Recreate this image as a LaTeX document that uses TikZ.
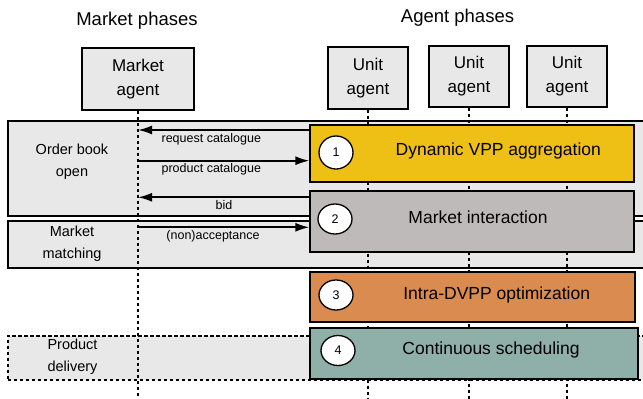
\documentclass[tikz,border=0pt]{standalone}
\usepackage{fontspec}
\setmainfont{Liberation Sans}
\usetikzlibrary{arrows.meta,shapes.geometric}
\definecolor{panelgray}{RGB}{232,232,232}
\definecolor{aggyellow}{RGB}{238,192,22}
\definecolor{migray}{RGB}{190,186,185}
\definecolor{optorange}{RGB}{218,139,80}
\definecolor{csteal}{RGB}{143,176,168}
\tikzset{
  panel/.style={draw=black, line width=1.5pt, fill=panelgray, anchor=north west, inner sep=0pt},
  dashpanel/.style={draw=black, line width=1.6pt, fill=panelgray, anchor=north west, inner sep=0pt, dash pattern=on 3.5pt off 2.5pt},
  agentbox/.style={draw=black, line width=1.3pt, fill=panelgray, align=center, inner sep=0pt,
    font=\fontsize{17}{24}\selectfont},
  lifeline/.style={black, line width=1.3pt, dash pattern=on 3.2pt off 2.8pt},
  phasebox/.style={draw=black, line width=1.3pt, inner sep=0pt},
  numcirc/.style={ellipse, draw=black, line width=1.3pt, fill=white, minimum width=34pt, minimum height=31pt, inner sep=0pt, font=\fontsize{12.5}{14}\selectfont},
  phasetext/.style={anchor=base, font=\fontsize{17.5}{20}\selectfont, inner sep=0pt},
  headtext/.style={anchor=base, font=\fontsize{18.5}{22}\selectfont, inner sep=0pt},
  marketlbl/.style={align=center, font=\fontsize{14.5}{22}\selectfont, inner sep=0pt},
  msglbl/.style={anchor=base, font=\fontsize{12.5}{14}\selectfont, inner sep=0pt},
  msg/.style={line width=1.8pt, -{Latex[length=14pt,width=9pt]}},
}
\begin{document}
\begin{tikzpicture}[x=1pt,y=-1pt]
\useasboundingbox (0,0) rectangle (643,399);
\clip (0,0) rectangle (643,399);

% market phase panels
\node[panel, minimum width=690pt, minimum height=95pt] (p1) at (7,120) {};
\node[panel, minimum width=690pt, minimum height=47pt] (p2) at (7,220) {};
\node[dashpanel, minimum width=690pt, minimum height=44pt] (p3) at (7,335) {};

% headers
\node[headtext] (hm) at (137,25) {Market phases};
\node[headtext] (ha) at (457.5,22.7) {Agent phases};

% agents
\node[agentbox, minimum width=112pt, minimum height=62pt] (ma) at (138,79) {Market\\agent};
\node[agentbox, minimum width=80pt, minimum height=62pt] (u1) at (368,78) {Unit\\agent};
\node[agentbox, minimum width=80pt, minimum height=61pt] (u2) at (469,76.5) {Unit\\agent};
\node[agentbox, minimum width=80pt, minimum height=61pt] (u3) at (567,76.5) {Unit\\agent};

% lifelines
\coordinate (mend) at (138,405);
\draw[lifeline] (ma.south) -- (mend);
\coordinate (u1end) at (368,405);
\coordinate (u2end) at (469,405);
\coordinate (u3end) at (567,405);
\draw[lifeline] (u1.south) -- (u1end);
\draw[lifeline] (u2.south) -- (u2end);
\draw[lifeline] (u3.south) -- (u3end);

% phase labels of the market
\node[marketlbl] (l1) at (72,161.5) {Order book\\open};
\node[marketlbl] (l2) at (72,243.8) {Market\\matching};
\node[marketlbl] (l3) at (72.5,356.6) {Product\\delivery};

% agent phase boxes
\node[phasebox, fill=aggyellow, minimum width=324pt, minimum height=57pt] (agg) at (472,153.5) {};
\node[phasebox, fill=migray, minimum width=324pt, minimum height=61pt] (mi) at (472,221.5) {};
\node[phasebox, fill=optorange, minimum width=325pt, minimum height=50pt] (opt) at (472.5,297) {};
\node[phasebox, fill=csteal, minimum width=328pt, minimum height=51pt] (cs) at (474,353.5) {};

\node[numcirc, minimum height=33pt] (c1) at (336,152.5) {1};
\node[numcirc, minimum height=30pt] (c2) at (335,219) {2};
\node[numcirc, minimum height=30pt] (c3) at (336,295) {3};
\node[numcirc, minimum height=30pt] (c4) at (338,350.5) {4};

\node[phasetext] (t1) at (498.3,155) {Dynamic VPP aggregation};
\node[phasetext] (t2) at (478,223.3) {Market interaction};
\node[phasetext] (t3) at (496.7,299.3) {Intra-DVPP optimization};
\node[phasetext] (t4) at (491,354.3) {Continuous scheduling};

% messages
\coordinate (m1) at (138,130);
\coordinate (m2) at (138,160.7);
\coordinate (m3) at (138,197.3);
\coordinate (m4) at (138,227.3);
\draw[msg] (agg.west |- m1) -- (m1);
\draw[msg] (m2) -- (agg.west |- m2);
\draw[msg] (mi.west |- m3) -- (m3);
\draw[msg] (m4) -- (mi.west |- m4);

\node[msglbl] (a1) at (211.3,142.3) {request catalogue};
\node[msglbl] (a2) at (211.3,172.5) {product catalogue};
\node[msglbl] (a3) at (224,209) {bid};
\node[msglbl] (a4) at (213,239.3) {(non)acceptance};
\end{tikzpicture}
\end{document}
